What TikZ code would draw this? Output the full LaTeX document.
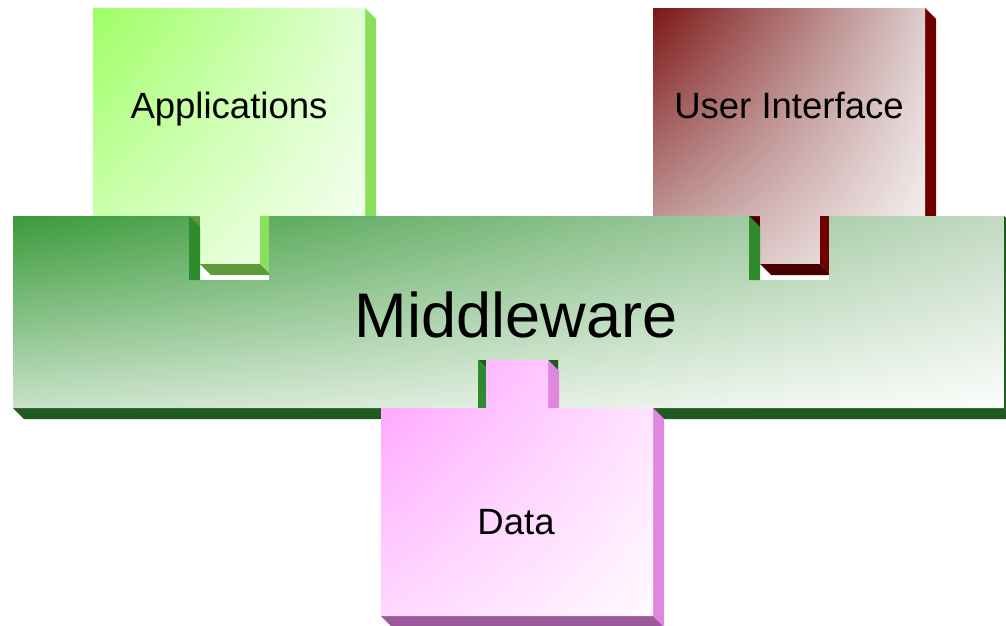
\documentclass[tikz,border=0pt]{standalone}
\usepackage{fontspec}
\setmainfont{Liberation Sans}
\usetikzlibrary{positioning, shadings}
\definecolor{appul}{RGB}{158,255,98}
\definecolor{appur}{RGB}{225,255,212}
\definecolor{appll}{RGB}{212,255,188}
\definecolor{applr}{RGB}{247,255,243}
\definecolor{appside}{RGB}{137,224,90}
\definecolor{appbot}{RGB}{94,154,58}
\definecolor{uiul}{RGB}{125,22,22}
\definecolor{uiur}{RGB}{220,204,204}
\definecolor{uill}{RGB}{204,174,174}
\definecolor{uilr}{RGB}{248,244,244}
\definecolor{uiside}{RGB}{112,0,0}
\definecolor{uibot}{RGB}{72,0,0}
\definecolor{mwul}{RGB}{58,155,58}
\definecolor{mwur}{RGB}{195,218,195}
\definecolor{mwll}{RGB}{200,225,200}
\definecolor{mwlr}{RGB}{252,253,252}
\definecolor{mwwall}{RGB}{45,138,45}
\definecolor{mwbot}{RGB}{31,90,31}
\definecolor{dtul}{RGB}{255,160,255}
\definecolor{dtur}{RGB}{255,222,255}
\definecolor{dtll}{RGB}{255,215,255}
\definecolor{dtlr}{RGB}{255,250,255}
\definecolor{dtside}{RGB}{224,136,224}
\definecolor{dtbot}{RGB}{155,90,155}

\begin{document}
\begin{tikzpicture}[x=0.75pt, y=-0.75pt,
  face/.style={fill=#1, draw=none},
  boxtext/.style={font=\fontsize{27.4}{32}\selectfont, inner sep=0pt, anchor=base},
  bigtext/.style={font=\fontsize{47.3}{56}\selectfont, inner sep=0pt, anchor=base},
]
  \useasboundingbox (0,0) rectangle (1006,625);
  \clip (0,0) rectangle (1006,625);

  % Applications
  \fill[face=appbot] (93,216) -- (365,216) -- (376,227) -- (104,227) -- cycle;
  \fill[face=appside] (365,8) -- (376,19) -- (376,227) -- (365,216) -- cycle;
  \shade[upper left=appul, upper right=appur, lower left=appll, lower right=applr]
    (93,8) -- (365,8) -- (365,216) -- (260,216) -- (260,264) -- (200,264)
    -- (200,216) -- (93,216) -- cycle;
  \fill[face=appside] (260,216) -- (271,216) -- (271,275) -- (260,264) -- cycle;
  \fill[face=appbot] (200,264) -- (260,264) -- (271,275) -- (211,275) -- cycle;

  % User Interface
  \fill[face=uibot] (653,216) -- (925,216) -- (936,227) -- (664,227) -- cycle;
  \fill[face=uiside] (925,8) -- (936,19) -- (936,227) -- (925,216) -- cycle;
  \shade[upper left=uiul, upper right=uiur, lower left=uill, lower right=uilr]
    (653,8) -- (925,8) -- (925,216) -- (820,216) -- (820,264) -- (760,264)
    -- (760,216) -- (653,216) -- cycle;
  \fill[face=uiside] (820,216) -- (831,216) -- (831,275) -- (820,264) -- cycle;
  \fill[face=uibot] (760,264) -- (820,264) -- (831,275) -- (771,275) -- cycle;

  % Middleware
  \fill[face=mwbot] (13,408) -- (1004,408) -- (1015,419) -- (24,419) -- cycle;
  \fill[face=mwbot] (1004,216) -- (1015,227) -- (1015,419) -- (1004,408) -- cycle;
  \shade[upper left=mwul, upper right=mwur, lower left=mwll, lower right=mwlr]
    (13,216) -- (189,216) -- (189,280) -- (269,280) -- (269,216) -- (749,216)
    -- (749,280) -- (829,280) -- (829,216) -- (1004,216) -- (1004,408)
    -- (558,408) -- (558,360) -- (478,360) -- (478,408) -- (13,408) -- cycle;
  \fill[face=mwwall] (189,216) -- (200,227) -- (200,280) -- (189,280) -- cycle;
  \fill[face=mwwall] (749,216) -- (760,227) -- (760,280) -- (749,280) -- cycle;
  \fill[face=mwbot] (478,360) -- (558,360) -- (558,371) -- (489,371) -- cycle;
  \fill[face=mwwall] (478,360) -- (489,371) -- (489,408) -- (478,408) -- cycle;

  % Data
  \fill[face=dtside] (653,408) -- (664,419) -- (664,627) -- (653,616) -- cycle;
  \fill[face=dtbot] (381,616) -- (653,616) -- (664,627) -- (392,627) -- cycle;
  \fill[face=dtside] (548,360) -- (559,371) -- (559,419) -- (548,419) -- cycle;
  \shade[upper left=dtul, upper right=dtur, lower left=dtll, lower right=dtlr]
    (381,408) -- (486,408) -- (486,360) -- (548,360) -- (548,408) -- (653,408)
    -- (653,616) -- (381,616) -- cycle;

  \node[boxtext] (apps) at (229,118) {Applications};
  \node[boxtext] (ui) at (789,118) {User Interface};
  \node[bigtext] (mw) at (516,337) {Middleware};
  \node[boxtext] (data) at (516,534) {Data};
\end{tikzpicture}
\end{document}
